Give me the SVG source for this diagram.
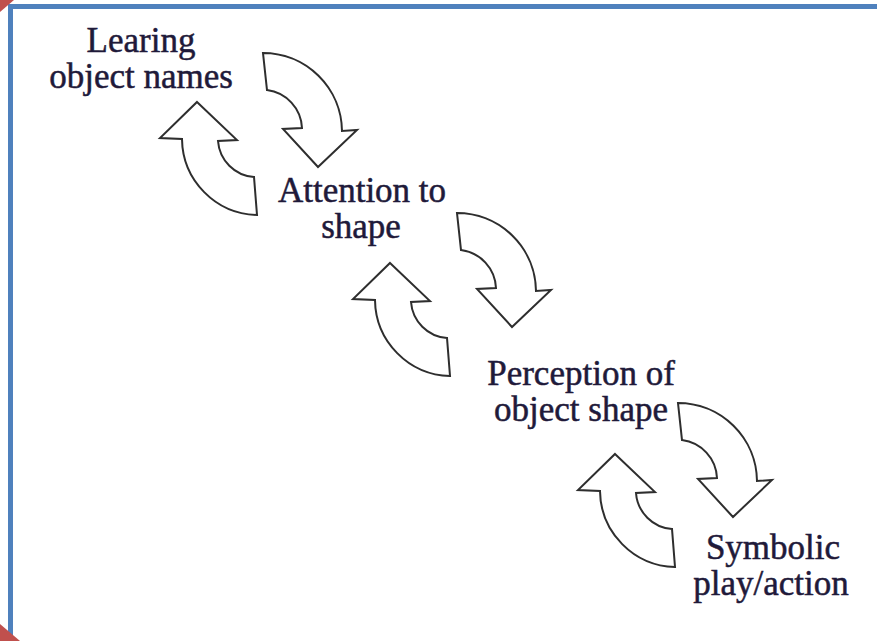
<svg xmlns="http://www.w3.org/2000/svg" width="877" height="641" viewBox="0 0 877 641">
<defs>
<style>
.lbl{font-family:"Liberation Serif","Times New Roman",serif;font-size:35px;fill:#1f1a3a;stroke:#1f1a3a;stroke-width:0.5;text-anchor:middle}
.arr{fill:#ffffff;stroke:#2e2e2e;stroke-width:2;stroke-linejoin:miter}
</style>
<path id="down" d="M263,53 A79,79 0 0 1 342,131 L357,130 L318,167 L283,129 L302,128 A40,40 0 0 0 267,90 Z"/>
<path id="up" d="M197,102 L237,140 L218,141 A39,39 0 0 0 254,177 L257,215 A77,77 0 0 1 182,139 L160,138 Z"/>
</defs>
<rect x="0" y="0" width="877" height="641" fill="#ffffff"/>
<path d="M10.5,641 V6.5 H877" fill="none" stroke="#4f81bd" stroke-width="5"/>
<polygon points="0,0 14,0 0,12" fill="#c0504d"/>
<polygon points="0,624 20,641 0,641" fill="#c0504d"/>
<g id="connectors">
<use href="#down" class="arr"/>
<use href="#up" class="arr"/>
<use href="#down" class="arr" transform="translate(194,160)"/>
<use href="#up" class="arr" transform="translate(193,161)"/>
<use href="#down" class="arr" transform="translate(415,350)"/>
<use href="#up" class="arr" transform="translate(418,352)"/>
</g>
<g id="node-learning">
<text class="lbl" x="141" y="52">Learing</text>
<text class="lbl" x="141" y="88">object names</text>
</g>
<g id="node-attention">
<text class="lbl" x="362" y="202">Attention to</text>
<text class="lbl" x="361" y="238">shape</text>
</g>
<g id="node-perception">
<text class="lbl" x="581" y="385">Perception of</text>
<text class="lbl" x="581" y="421">object shape</text>
</g>
<g id="node-symbolic">
<text class="lbl" x="773" y="559">Symbolic</text>
<text class="lbl" x="771" y="595">play/action</text>
</g>
</svg>
